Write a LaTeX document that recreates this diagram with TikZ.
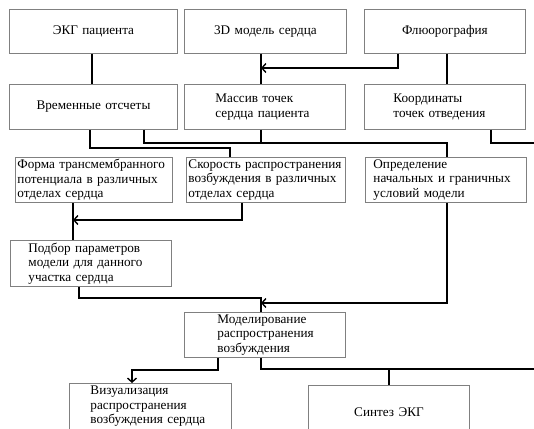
\documentclass[tikz,border=0pt]{standalone}
\usepackage{fontspec}
\setmainfont{Liberation Serif}
\usetikzlibrary{arrows.meta}
\begin{document}
\begin{tikzpicture}[x=1pt,y=-1pt,
  box/.style={draw=black!50, line width=0.9pt, fill=white, rectangle, anchor=north west,
    font=\fontsize{13.2}{14.6}\selectfont, text=black, inner ysep=0pt},
  cbox/.style={box, align=center},
  lbox/.style={box, align=left},
  conn/.style={line width=1.7pt, black},
  arr/.style={conn, -{Straight Barb[length=4pt,width=9pt,line width=1.4pt]}}]
\useasboundingbox (0,0) rectangle (534,428);
\node[cbox, minimum width=168pt, minimum height=44pt, text width=160pt] (ekg) at (9,9) {ЭКГ пациента};
\node[cbox, minimum width=162pt, minimum height=44pt, text width=154pt] (model) at (184,9) {3D модель сердца};
\node[cbox, minimum width=161pt, minimum height=44pt, text width=153pt] (fluoro) at (364,9) {Флюорография};
\node[cbox, minimum width=168pt, minimum height=45pt, text width=160pt] (time) at (9,84) {Временные отсчеты};
\node[lbox, minimum width=161pt, minimum height=45pt, inner xsep=31pt, text width=99pt] (mass) at (184,84) {Массив точек\\сердца пациента};
\node[lbox, minimum width=161pt, minimum height=45pt, inner xsep=29pt, text width=103pt] (coord) at (364,84) {Координаты\\точек отведения};
\node[lbox, minimum width=157pt, minimum height=45pt, inner xsep=2pt, text width=153pt] (form) at (15,157) {Форма трансмембранного\\потенциала в различных\\отделах сердца};
\node[lbox, minimum width=159pt, minimum height=45pt, inner xsep=2pt, text width=155pt] (speed) at (186,157) {Скорость распространения\\возбуждения в различных\\отделах сердца};
\node[lbox, minimum width=161pt, minimum height=45pt, inner xsep=8pt, text width=145pt] (init) at (365,157) {Определение\\начальных и граничных\\условий модели};
\node[lbox, minimum width=161pt, minimum height=46pt, inner xsep=18pt, text width=125pt] (fit) at (10,240) {Подбор параметров\\модели для данного\\участка сердца};
\node[lbox, minimum width=161pt, minimum height=45pt, inner xsep=33pt, text width=95pt] (sim) at (184,312) {Моделирование\\распространения\\возбуждения};
\node[lbox, minimum width=162pt, minimum height=46pt, inner xsep=21pt, text width=120pt] (vis) at (69,383) {Визуализация\\распространения\\возбуждения сердца};
\node[cbox, minimum width=161pt, minimum height=54pt, text width=153pt] (synth) at (308,385) {Синтез ЭКГ};
\coordinate (j1) at (261,68);
\coordinate (j2) at (73,220);
\coordinate (j3) at (261,303);
\coordinate (exA) at (534,143);
\coordinate (exB) at (534,369);
\draw[conn] (ekg.south -| 92,0) -- (time.north -| 92,0);
\draw[conn] (model.south -| j1) -- (mass.north -| j1);
\draw[arr] (fluoro.south -| 398,0) |- (j1);
\draw[conn] (fluoro.south -| 447,0) -- (coord.north -| 447,0);
\draw[conn] (time.south -| 90,0) |- (230,148) -- (speed.north -| 230,0);
\draw[conn] (time.south -| 144,0) |- (447,143) -- (init.north -| 447,0);
\draw[conn] (mass.south -| 261,0) -- (261,143);
\draw[conn] (coord.south -| 491,0) |- (exA);
\draw[conn] (form.south -| j2) -- (fit.north -| j2);
\draw[arr] (speed.south -| 242,0) |- (j2);
\draw[conn] (fit.south -| 79,0) |- (261,298) -- (sim.north -| 261,0);
\draw[arr] (init.south -| 447,0) |- (j3);
\draw[arr] (sim.south -| 218,0) |- (132,370) -- (vis.north -| 132,0);
\draw[conn] (sim.south -| 261,0) |- (exB);
\draw[conn] (synth.north |- exB) -- (synth.north);
\end{tikzpicture}
\end{document}
